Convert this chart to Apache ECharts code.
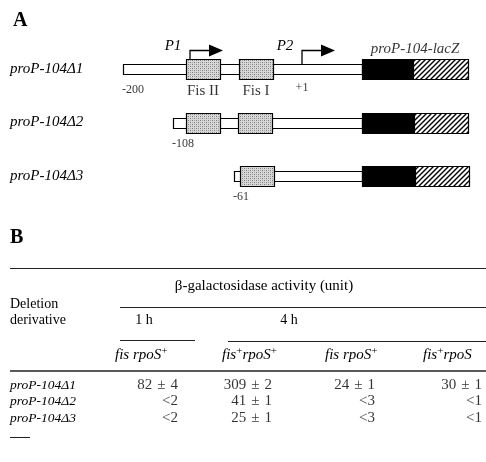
<!DOCTYPE html>
<html>
<head>
<meta charset="utf-8">
<script src="https://cdn.jsdelivr.net/npm/echarts@6/dist/echarts.min.js"></script>
<style>
  html, body { margin: 0; padding: 0; background: #fff; }
  #main { width: 486px; height: 462px; }
</style>
</head>
<body>
<div id="main"></div>
<script>
// ---- part A: deletion constructs (map units, not to scale like the figure) ----
const constructs = ["proP-104\u03941", "proP-104\u03942", "proP-104\u03943"];
const deletionEnd = [123, 173, 234];
const endLabels = ["-200", "-108", "-61"];
const fisII = [[186, 220], [186, 220], null];
const fisI = [[239, 273], [238, 272], [240, 274]];
const fusionPoint = [362, 362, 362];
const lacZBlack = [[362, 413], [362, 414], [362, 415]];
const lacZHatch = [[413, 468], [414, 468], [415, 469]];
const promoterNames = ["P1", "P2"];
const promoterPos = [190, 302];

// ---- part B: table ----
const tableRows = ["proP-104\u03941", "proP-104\u03942", "proP-104\u03943"];
const colHeads = [["fis rpoS", "+"], ["fis", "+", "rpoS", "+"], ["fis rpoS", "+"], ["fis", "+", "rpoS"]];
const col1h = ["82 \u00b1 4", "<2", "<2"];
const col4hA = ["309 \u00b1 2", "41 \u00b1 1", "25 \u00b1 1"];
const col4hB = ["24 \u00b1 1", "<3", "<3"];
const col4hC = ["30 \u00b1 1", "<1", "<1"];

// layout
const colRight = [178, 272, 375, 482];
const headLeft = [115, 222, 325, 423];
const SERIF = "Liberation Serif";
const INK = "#000";

function stipple() {
  const c = document.createElement("canvas");
  c.width = 4; c.height = 4;
  const g = c.getContext("2d");
  g.fillStyle = "#d8d8d8"; g.fillRect(0, 0, 4, 4);
  g.fillStyle = "#7a7a7a";
  g.fillRect(0, 0, 1, 1); g.fillRect(2, 2, 1, 1);
  g.fillStyle = "#a4a4a4";
  g.fillRect(2, 0, 1, 1); g.fillRect(0, 2, 1, 1);
  return c;
}
function hatch() {
  const c = document.createElement("canvas");
  c.width = 5; c.height = 5;
  const g = c.getContext("2d");
  g.fillStyle = "#fff"; g.fillRect(0, 0, 5, 5);
  g.strokeStyle = "#000"; g.lineWidth = 1.4;
  g.beginPath();
  g.moveTo(-1, 6); g.lineTo(6, -1);
  g.moveTo(-1, 1); g.lineTo(1, -1);
  g.moveTo(4, 6); g.lineTo(6, 4);
  g.stroke();
  return c;
}
const fills = {
  bar: "#fff",
  fis: { image: stipple(), repeat: "repeat" },
  black: "#000",
  hatch: { image: hatch(), repeat: "repeat" }
};
const heights = { bar: 10, fis: 20, black: 20, hatch: 20 };

// segments drawn in order: thin bar, Fis boxes, lacZ fusion
const segments = [];
constructs.forEach((n, i) => {
  segments.push([deletionEnd[i], fusionPoint[i], i, "bar"]);
  if (fisII[i]) segments.push([fisII[i][0], fisII[i][1], i, "fis"]);
  if (fisI[i]) segments.push([fisI[i][0], fisI[i][1], i, "fis"]);
  segments.push([lacZBlack[i][0], lacZBlack[i][1], i, "black"]);
  segments.push([lacZHatch[i][0], lacZHatch[i][1], i, "hatch"]);
});

// text annotations on the map
const lbl = (text, x, row, dy, align, italic, size) => ({
  value: [x, row],
  label: {
    show: true, formatter: text, position: [0, dy], align: align, verticalAlign: "middle",
    fontFamily: SERIF, fontSize: size, fontStyle: italic ? "italic" : "normal", color: INK
  }
});
const annotations = [];
constructs.forEach((n, i) => annotations.push(lbl(endLabels[i], deletionEnd[i] - 1, i, 21, "left", false, 12)));
annotations.push(lbl("Fis II", (fisII[0][0] + fisII[0][1]) / 2, 0, 22, "center", false, 15));
annotations.push(lbl("Fis I", (fisI[0][0] + fisI[0][1]) / 2, 0, 22, "center", false, 15));
annotations.push(lbl("+1", promoterPos[1], 0, 19, "center", false, 12));
annotations.push(lbl("proP-104-lacZ", (lacZBlack[0][0] + lacZHatch[0][1]) / 2, 0, -20, "center", true, 15));

const chart = echarts.init(document.getElementById("main"));

const txt = (text, x, y, font, align) => ({
  type: "text", x: x, y: y,
  style: { text: text, font: font, fill: INK, align: align || "left", verticalAlign: "middle" }
});
const rule = (x1, x2, y, w) => ({
  type: "line", shape: { x1: x1, y1: y, x2: x2, y2: y },
  style: { stroke: "#222", lineWidth: w || 1 }
});
const headGraphic = colHeads.map((h, c) => {
  let t = "";
  h.forEach(p => { t += p === "+" ? "{s|+}" : "{i|" + p + "}"; });
  return {
    type: "text", x: headLeft[c], y: 355,
    style: {
      text: t, fill: INK, verticalAlign: "middle",
      rich: {
        i: { fontFamily: SERIF, fontStyle: "italic", fontSize: 15, lineHeight: 18 },
        s: { fontFamily: SERIF, fontSize: 11, verticalAlign: "top", lineHeight: 18, padding: [0, 0, 6, 0] }
      }
    }
  };
});

const cellSeries = [col1h, col4hA, col4hB, col4hC].map((col, c) => ({
  type: "scatter", xAxisIndex: 1, yAxisIndex: 1, symbolSize: 0, silent: true,
  data: col.map((v, r) => [colRight[c], r, v]),
  label: {
    show: true, position: "left", distance: 0, formatter: p => p.value[2].replace(" \u00b1 ", "\u2004\u00b1\u2004"),
    fontFamily: SERIF, fontSize: 15, color: INK
  }
}));

chart.setOption({
  backgroundColor: "#fff",
  animation: false,
  grid: [
    { left: 0, right: 0, top: 42.25, height: 160.5 },
    { left: 0, right: 0, top: 376.75, height: 49.5 }
  ],
  xAxis: [
    { type: "value", gridIndex: 0, min: 0, max: 486, show: false },
    { type: "value", gridIndex: 1, min: 0, max: 486, show: false }
  ],
  yAxis: [
    {
      type: "category", gridIndex: 0, data: constructs, inverse: true,
      axisLine: { show: false }, axisTick: { show: false }, splitLine: { show: false },
      axisLabel: { inside: true, interval: 0, margin: 10, align: "left", fontFamily: SERIF, fontStyle: "italic", fontSize: 15, color: INK }
    },
    {
      type: "category", gridIndex: 1, data: tableRows, inverse: true,
      axisLine: { show: false }, axisTick: { show: false }, splitLine: { show: false },
      axisLabel: { inside: true, interval: 0, hideOverlap: false, margin: 10, align: "left", fontFamily: SERIF, fontStyle: "italic", fontSize: 13.5, color: INK }
    }
  ],
  graphic: [
    txt("A", 13, 21, "bold 20px " + SERIF),
    txt("B", 10, 238, "bold 20px " + SERIF),
    rule(10, 486, 268.5),
    txt("\u03b2-galactosidase activity (unit)", 264, 286, "15px " + SERIF, "center"),
    rule(120, 486, 307.5),
    txt("Deletion", 10, 304, "14px " + SERIF),
    txt("derivative", 10, 320, "14px " + SERIF),
    txt("1 h", 144, 320, "14px " + SERIF, "center"),
    txt("4 h", 289, 320, "14px " + SERIF, "center"),
    rule(120, 195, 340.5),
    rule(228, 486, 341.5),
    rule(10, 486, 371, 1.6),
    rule(10, 30, 437.5)
  ].concat(headGraphic),
  series: [
    {
      // promoter arrows
      type: "custom", xAxisIndex: 0, yAxisIndex: 0, silent: true,
      data: promoterPos.map(x => [x, 0]),
      renderItem: (params, api) => {
        const p = api.coord([api.value(0), api.value(1)]);
        const x = p[0], y = p[1] - 18.5;
        return {
          type: "group",
          children: [
            { type: "polyline", shape: { points: [[x, p[1]], [x, y], [x + 19, y]] }, style: { stroke: "#000", lineWidth: 1.3, fill: null } },
            { type: "polygon", shape: { points: [[x + 19, y - 6], [x + 33, y], [x + 19, y + 6]] }, style: { fill: "#000" } },
            { type: "text", x: x - 17, y: y - 4, style: { text: promoterNames[params.dataIndex], font: "italic 15px " + SERIF, fill: INK, align: "center", verticalAlign: "middle" } }
          ]
        };
      }
    },
    {
      // construct segments
      type: "custom", xAxisIndex: 0, yAxisIndex: 0, silent: true,
      data: segments.map(s => [s[0], s[1], s[2]]),
      renderItem: (params, api) => {
        const kind = segments[params.dataIndex][3];
        const a = api.coord([api.value(0), api.value(2)]);
        const b = api.coord([api.value(1), api.value(2)]);
        const h = heights[kind];
        return {
          type: "rect",
          shape: { x: Math.round(a[0]) + 0.5, y: Math.round(a[1] - h / 2) + 0.5, width: Math.round(b[0] - a[0]), height: h },
          style: { fill: fills[kind], stroke: "#000", lineWidth: 1.2 }
        };
      }
    },
    {
      type: "scatter", xAxisIndex: 0, yAxisIndex: 0, symbolSize: 0, silent: true,
      data: annotations
    }
  ].concat(cellSeries)
});
</script>
</body>
</html>
